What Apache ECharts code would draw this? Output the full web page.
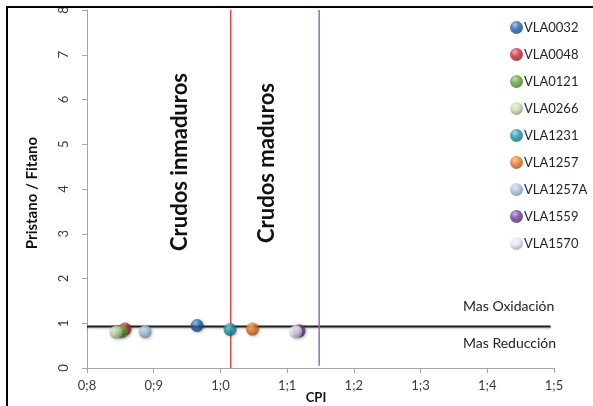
<!DOCTYPE html>
<html>
<head>
<meta charset="utf-8">
<script src="https://cdn.jsdelivr.net/npm/echarts@6/dist/echarts.min.js"></script>
<style>
html,body{margin:0;padding:0;background:#fff;}
#chart{width:593px;height:406px;}
</style>
</head>
<body>
<div id="chart"></div>
<script>
// ---- data ----
const sampleNames = ['VLA0032','VLA0048','VLA0121','VLA0266','VLA1231','VLA1257','VLA1257A','VLA1559','VLA1570'];
const cpiValues   = [0.965, 0.857, 0.852, 0.8435, 1.0144, 1.048, 0.887, 1.118, 1.113];
const prFiValues  = [0.95, 0.87, 0.81, 0.80, 0.86, 0.87, 0.81, 0.83, 0.81];
const sampleColors = ['#1f5fae','#c8242e','#5ea432','#c4dcae','#1398a8','#ea7420','#a3c3e0','#6a3b9c','#e8e2ee'];
const xTickLabels = ['0;8','0;9','1;0','1;1','1;2','1;3','1;4','1;5'];
const yTickLabels = ['0','1','2','3','4','5','6','7','8'];
const dividerY = 0.93;           // Oxidación / Reducción line
const dividerX = [0.8, 1.495];
const redLineX = 1.0155;          // inmaduros / maduros
const redLineY = [0, 8];
const purpleLineX = 1.148;
const purpleLineY = [0.05, 8];

function lighten(hex, f){
  const n = parseInt(hex.slice(1),16);
  let r=(n>>16)&255,g=(n>>8)&255,b=n&255;
  r=Math.round(r+(255-r)*f);g=Math.round(g+(255-g)*f);b=Math.round(b+(255-b)*f);
  return 'rgb('+r+','+g+','+b+')';
}
function darken(hex, f){
  const n = parseInt(hex.slice(1),16);
  let r=(n>>16)&255,g=(n>>8)&255,b=n&255;
  r=Math.round(r*(1-f));g=Math.round(g*(1-f));b=Math.round(b*(1-f));
  return 'rgb('+r+','+g+','+b+')';
}
function ball(hex){
  return {type:'radial', x:0.38, y:0.3, r:0.75,
    colorStops:[{offset:0,color:lighten(hex,0.55)},{offset:0.45,color:hex},{offset:1,color:darken(hex,0.35)}]};
}

const chart = echarts.init(document.getElementById('chart'), null, {renderer:'canvas'});
const FONT = 'Lato, "Open Sans", sans-serif';

const series = [
  {type:'line', name:'_div', data:[[dividerX[0],dividerY],[dividerX[1],dividerY]], symbol:'none',
   lineStyle:{color:'#222',width:2, shadowBlur:2, shadowColor:'rgba(0,0,0,0.3)', shadowOffsetY:1}, z:2, silent:true},
  {type:'line', name:'_red', data:[[redLineX,redLineY[0]],[redLineX,redLineY[1]]], symbol:'none',
   lineStyle:{color:'#e0484c',width:1.5}, z:2, silent:true},
  {type:'line', name:'_purple', data:[[purpleLineX,purpleLineY[0]],[purpleLineX,purpleLineY[1]]], symbol:'none',
   lineStyle:{color:'#8e6cb4',width:1.5}, z:2, silent:true}
];
sampleNames.forEach((nm,i)=>{
  series.push({type:'scatter', name:nm, data:[[cpiValues[i],prFiValues[i]]], symbol:'circle', symbolSize:13,
    itemStyle:{color:ball(sampleColors[i]), shadowBlur:3, shadowColor:'rgba(0,0,0,0.35)', shadowOffsetY:1, shadowOffsetX:1},
    z:5});
});

chart.setOption({
  animation:false,
  backgroundColor:'#fff',
  grid:{left:87, top:10, width:467, height:358},
  legend:{data:sampleNames, orient:'vertical', left:505, top:16, itemWidth:13, itemHeight:13, itemGap:14,
    icon:'circle', textStyle:{fontFamily:FONT, fontSize:13, color:'#1c1f33', lineHeight:13, padding:[0,0,0,-4]}},
  xAxis:{type:'value', min:0.8, max:1.5, interval:0.1, splitLine:{show:false},
    axisLine:{lineStyle:{color:'#a6a6a6'}}, axisTick:{lineStyle:{color:'#a6a6a6'},length:5},
    axisLabel:{fontFamily:FONT, fontSize:13, color:'#3a3a3a', margin:11,
      formatter:(v)=>xTickLabels[Math.round((v-0.8)*10)]}},
  yAxis:{type:'value', min:0, max:8, interval:1, splitLine:{show:false},
    axisLine:{show:true, lineStyle:{color:'#a6a6a6'}}, axisTick:{show:true, lineStyle:{color:'#a6a6a6'},length:5},
    axisLabel:{fontFamily:FONT, fontSize:13, color:'#3a3a3a', rotate:90, margin:17,
      formatter:(v)=>yTickLabels[Math.round(v)]}},
  graphic:[
    {type:'rect', shape:{x:7,y:7,width:700,height:500}, style:{fill:'none', stroke:'#000', lineWidth:2}, z:10, silent:true},
    {type:'text', x:180, y:162, rotation:Math.PI/2, style:{text:'Crudos inmaduros', font:'bold 22px '+FONT, fill:'#111', align:'center', verticalAlign:'middle'}},
    {type:'text', x:267, y:163, rotation:Math.PI/2, style:{text:'Crudos maduros', font:'bold 22px '+FONT, fill:'#111', align:'center', verticalAlign:'middle'}},
    {type:'text', x:463, y:306, style:{text:'Mas Oxidación', font:'14px '+FONT, fill:'#222', align:'left', verticalAlign:'middle'}},
    {type:'text', x:463, y:343, style:{text:'Mas Reducción', font:'14px '+FONT, fill:'#222', align:'left', verticalAlign:'middle'}},
    {type:'text', x:32.5, y:193, rotation:Math.PI/2, style:{text:'Pristano / Fitano', font:'bold 15px '+FONT, fill:'#111', align:'center', verticalAlign:'middle'}},
    {type:'text', x:316, y:398, style:{text:'CPI', font:'bold 13px '+FONT, fill:'#111', align:'center', verticalAlign:'middle'}}
  ],
  series:series
});
</script>
</body>
</html>
